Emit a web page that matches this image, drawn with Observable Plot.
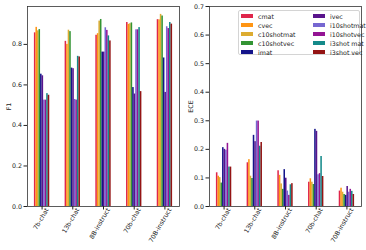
<!DOCTYPE html>
<html><head><meta charset="utf-8">
<script src="https://cdn.jsdelivr.net/npm/d3@7"></script>
<script src="https://cdn.jsdelivr.net/npm/@observablehq/plot@0.6"></script>
<style>
body{margin:0;background:#fff;font-family:"DejaVu Sans",sans-serif;}
#wrap{position:relative;width:366px;height:250px;overflow:hidden;}
#p1{position:absolute;left:0;top:0;}
#p2{position:absolute;left:183px;top:0;}
#legend{position:absolute;left:238px;top:10px;width:122px;height:45px;box-sizing:border-box;border:0.8px solid #d4d4d4;border-radius:2px;background:rgba(255,255,255,0.85);display:grid;grid-auto-flow:column;grid-template-rows:repeat(5,9px);grid-template-columns:72px 48px;padding:0.5px 0 0 2px;font-size:6.3px;color:#222;}
.item{display:flex;align-items:center;white-space:nowrap;}
.sw{width:12px;height:4.5px;margin-right:5px;flex:none;}
</style>
</head><body>
<div id="wrap"><div id="p1"></div><div id="p2"></div><div id="legend"></div></div>
<script>
const categories = ["7b-chat","13b-chat","8B-instruct","70b-chat","70B-instruct"];
const series = ["cmat","cvec","c10shotmat","c10shotvec","imat","ivec","i10shotmat","i10shotvec","i3shot mat","i3shot vec"];
const colors = ["#dc143c","#ff8c00","#daa520","#228b22","#000080","#4b0082","#6a5acd","#8b008b","#008080","#8b0000"];

// F1 per category (order of series)
const f1_7b_chat      = [0.857, 0.884, 0.867, 0.873, 0.653, 0.645, 0.525, 0.525, 0.557, 0.549];
const f1_13b_chat     = [0.815, 0.800, 0.870, 0.863, 0.683, 0.680, 0.528, 0.525, 0.741, 0.738];
const f1_8B_instruct  = [0.845, 0.853, 0.915, 0.923, 0.762, 0.762, 0.882, 0.869, 0.842, 0.817];
const f1_70b_chat     = [0.908, 0.899, 0.902, 0.906, 0.587, 0.555, 0.872, 0.872, 0.883, 0.567];
const f1_70B_instruct = [0.922, 0.921, 0.948, 0.940, 0.733, 0.563, 0.887, 0.878, 0.908, 0.900];

// ECE per category (order of series)
const ece_7b_chat      = [0.118, 0.106, 0.101, 0.082, 0.206, 0.200, 0.197, 0.221, 0.138, 0.138];
const ece_13b_chat     = [0.153, 0.164, 0.106, 0.098, 0.249, 0.227, 0.299, 0.299, 0.211, 0.224];
const ece_8B_instruct  = [0.125, 0.109, 0.079, 0.060, 0.129, 0.099, 0.054, 0.039, 0.076, 0.080];
const ece_70b_chat     = [0.085, 0.097, 0.085, 0.077, 0.270, 0.263, 0.111, 0.115, 0.175, 0.105];
const ece_70B_instruct = [0.054, 0.064, 0.050, 0.042, 0.039, 0.070, 0.050, 0.060, 0.053, 0.042];

const f1Ticks = [0.0, 0.2, 0.4, 0.6, 0.8];
const eceTicks = [0.0, 0.1, 0.2, 0.3, 0.4, 0.5, 0.6, 0.7];

const barW = 0.05;

function makeChart(rows, yDomain, yTicks, label, mL, mR) {
  const data = [];
  categories.forEach((c, gi) => rows[gi].forEach((v, si) => data.push({cat: c, series: series[si], gi, si, value: v})));
  const xt = d3.range(categories.length);
  return Plot.plot({
    width: 183, height: 250,
    marginLeft: mL, marginRight: mR, marginTop: 6, marginBottom: 44,
    style: {fontFamily: "DejaVu Sans", fontSize: "6.3px", color: "#222", background: "transparent", overflow: "visible"},
    x: {domain: [-0.475, 4.475], axis: null},
    y: {domain: yDomain, axis: null},
    color: {domain: series, range: colors},
    marks: [
      Plot.rect(data, {
        x1: d => d.gi - 0.25 + d.si * barW,
        x2: d => d.gi - 0.25 + (d.si + 1) * barW,
        y1: 0, y2: "value", fill: "series", fillOpacity: 0.92
      }),
      Plot.frame({stroke: "#333", strokeWidth: 0.8}),
      Plot.axisY({ticks: yTicks, tickFormat: d3.format(".1f"), tickSize: 3.5, tickPadding: 2,
        label, labelAnchor: "center", labelArrow: "none", labelOffset: 21}),
      // tick marks only
      Plot.axisX({ticks: xt, tickSize: 3.5, tickFormat: () => "", label: null}),
      // rotated labels, shifted to sit centred under their tick
      Plot.axisX({ticks: xt, tickFormat: i => categories[i], tickRotate: -60,
        tickSize: 0, tickPadding: 2, dx: 5, label: null})
    ]
  });
}

document.getElementById("p1").append(
  makeChart([f1_7b_chat, f1_13b_chat, f1_8B_instruct, f1_70b_chat, f1_70B_instruct], [0, 0.987], f1Ticks, "F1", 27, 4));
document.getElementById("p2").append(
  makeChart([ece_7b_chat, ece_13b_chat, ece_8B_instruct, ece_70b_chat, ece_70B_instruct], [0, 0.7], eceTicks, "ECE", 26, 5));

const lg = document.getElementById("legend");
series.forEach((s, i) => {
  const it = document.createElement("div");
  it.className = "item";
  it.innerHTML = `<span class="sw" style="background:${colors[i]};opacity:0.92"></span><span>${s}</span>`;
  lg.append(it);
});
</script>
</body></html>
